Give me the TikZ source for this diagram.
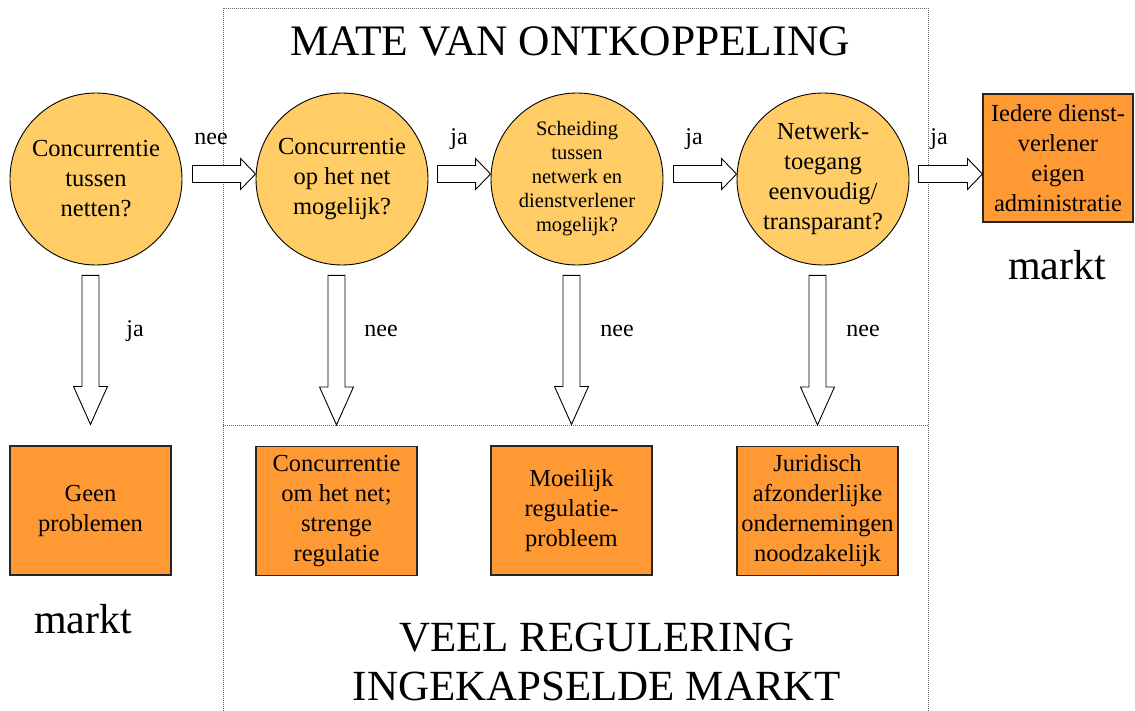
\documentclass[tikz,border=0pt]{standalone}
\usepackage{fontspec}
\setmainfont{Liberation Serif}
\usetikzlibrary{calc}
\definecolor{circfill}{RGB}{255,204,102}
\definecolor{boxfill}{RGB}{255,153,51}
\newcommand\fsz[2]{\fontsize{#1}{#2}\selectfont}
% horizontal block arrow: #1 start coordinate, #2 tip coordinate
\newcommand\hblk[2]{%
  \draw[blk] ($(#1)+(0,-8.5)$) -- ($(#2)+(-15,-8.5)$) -- ($(#2)+(-15,-15.5)$) -- (#2)
    -- ($(#2)+(-15,15.5)$) -- ($(#2)+(-15,8.5)$) -- ($(#1)+(0,8.5)$) -- cycle;}
% vertical block arrow: #1 start coordinate, #2 tip coordinate
\newcommand\vblk[2]{%
  \draw[blk] ($(#1)+(-8.5,0)$) -- ($(#2)+(-8.5,-38)$) -- ($(#2)+(-17,-38)$) -- (#2)
    -- ($(#2)+(17,-38)$) -- ($(#2)+(8.5,-38)$) -- ($(#1)+(8.5,0)$) -- cycle;}
\begin{document}
\begin{tikzpicture}[x=1pt,y=-1pt,
  circ/.style={circle, draw=black, line width=0.9pt, fill=circfill, minimum size=172pt,
    inner sep=0pt, align=center, font=\fsz{24.5}{30}},
  smallcirc/.style={circ, font=\fsz{20.5}{24}},
  box/.style={rectangle, draw=black!85, line width=1.1pt, fill=boxfill, minimum width=161pt,
    minimum height=129pt, inner sep=0pt, align=center, font=\fsz{24.5}{30}},
  blk/.style={draw=black, fill=white, line width=0.9pt, line join=miter},
  lbl/.style={inner sep=0pt, anchor=base, font=\fsz{24}{28}},
  big/.style={inner sep=0pt, anchor=base, font=\fsz{42}{50}},
  frame/.style={draw=black!60, line width=0.8pt, dash pattern=on 1pt off 1pt}
]
\useasboundingbox (0,0) rectangle (1135,711);

% dotted frame
\draw[frame] (223,711) -- (223,8) -- (928,8) -- (928,711);
\draw[frame] (223,425) -- (928,425);

% titles
\node[big, font=\fsz{43.5}{50}] (title) at (570,56) {MATE VAN ONTKOPPELING};
\node[big, font=\fsz{43}{50}] (bot1) at (597,651) {VEEL REGULERING};
\node[big, font=\fsz{43}{50}] (bot2) at (597,700) {INGEKAPSELDE MARKT};
\node[big] (mktl) at (83,633) {markt};
\node[big] (mktr) at (1057,280) {markt};

% circles
\node[circ] (c1) at (96,179) {Concurrentie\\tussen\\netten?};
\node[circ] (c2) at (342,179) {Concurrentie\\op het net\\mogelijk?};
\node[smallcirc] (c3) at (577,179) {Scheiding\\tussen\\netwerk en\\dienstverlener\\mogelijk?};
\node[circ] (c4) at (823,179) {Netwerk-\\toegang\\eenvoudig/\\transparant?};

% boxes
\node[box] (b1) at (90.5,510.5) {Geen\\problemen};
\node[box] (b2) at (336.5,511) {Concurrentie\\om het net;\\strenge\\regulatie};
\node[box] (b3) at (571.5,510.5) {Moeilijk\\regulatie-\\probleem};
\node[box] (b4) at (817.5,511) {Juridisch\\afzonderlijke\\ondernemingen\\noodzakelijk};
\node[box, minimum width=150pt, minimum height=128pt] (ied) at (1058,158)
  {Iedere dienst-\\verlener\\eigen\\administratie};

% horizontal arrows
\coordinate (h1s) at ($(c1.east)+(10,-5)$);
\coordinate (h1t) at ($(c2.west)+(0,-5)$);
\coordinate (h2s) at ($(c2.east)+(9,-5)$);
\coordinate (h2t) at ($(c3.west)+(0,-5)$);
\coordinate (h3s) at ($(c3.east)+(10,-5)$);
\coordinate (h3t) at ($(c4.west)+(0,-5)$);
\coordinate (h4s) at ($(c4.east)+(9,-5)$);
\coordinate (h4t) at ($(ied.west |- c4.east)+(0,-5)$);
\hblk{h1s}{h1t}
\hblk{h2s}{h2t}
\hblk{h3s}{h3t}
\hblk{h4s}{h4t}

% vertical arrows
\coordinate (v1s) at ($(b1.north |- c1.south)+(0,10)$);
\coordinate (v1t) at ($(b1.north)+(0,-21)$);
\coordinate (v2s) at ($(b2.north |- c2.south)+(0,10)$);
\coordinate (v2t) at ($(b2.north)+(0,-21)$);
\coordinate (v3s) at ($(b3.north |- c3.south)+(0,10)$);
\coordinate (v3t) at ($(b3.north)+(0,-21)$);
\coordinate (v4s) at ($(b4.north |- c4.south)+(0,10)$);
\coordinate (v4t) at ($(b4.north)+(0,-21)$);
\vblk{v1s}{v1t}
\vblk{v2s}{v2t}
\vblk{v3s}{v3t}
\vblk{v4s}{v4t}

% arrow labels
\node[lbl] (lh1) at (211,145) {nee};
\node[lbl] (lh2) at (459,145) {ja};
\node[lbl] (lh3) at (694,145) {ja};
\node[lbl] (lh4) at (939,145) {ja};
\node[lbl] (lv1) at (135,337) {ja};
\node[lbl] (lv2) at (381,337) {nee};
\node[lbl] (lv3) at (617,337) {nee};
\node[lbl] (lv4) at (863,337) {nee};
\end{tikzpicture}
\end{document}
